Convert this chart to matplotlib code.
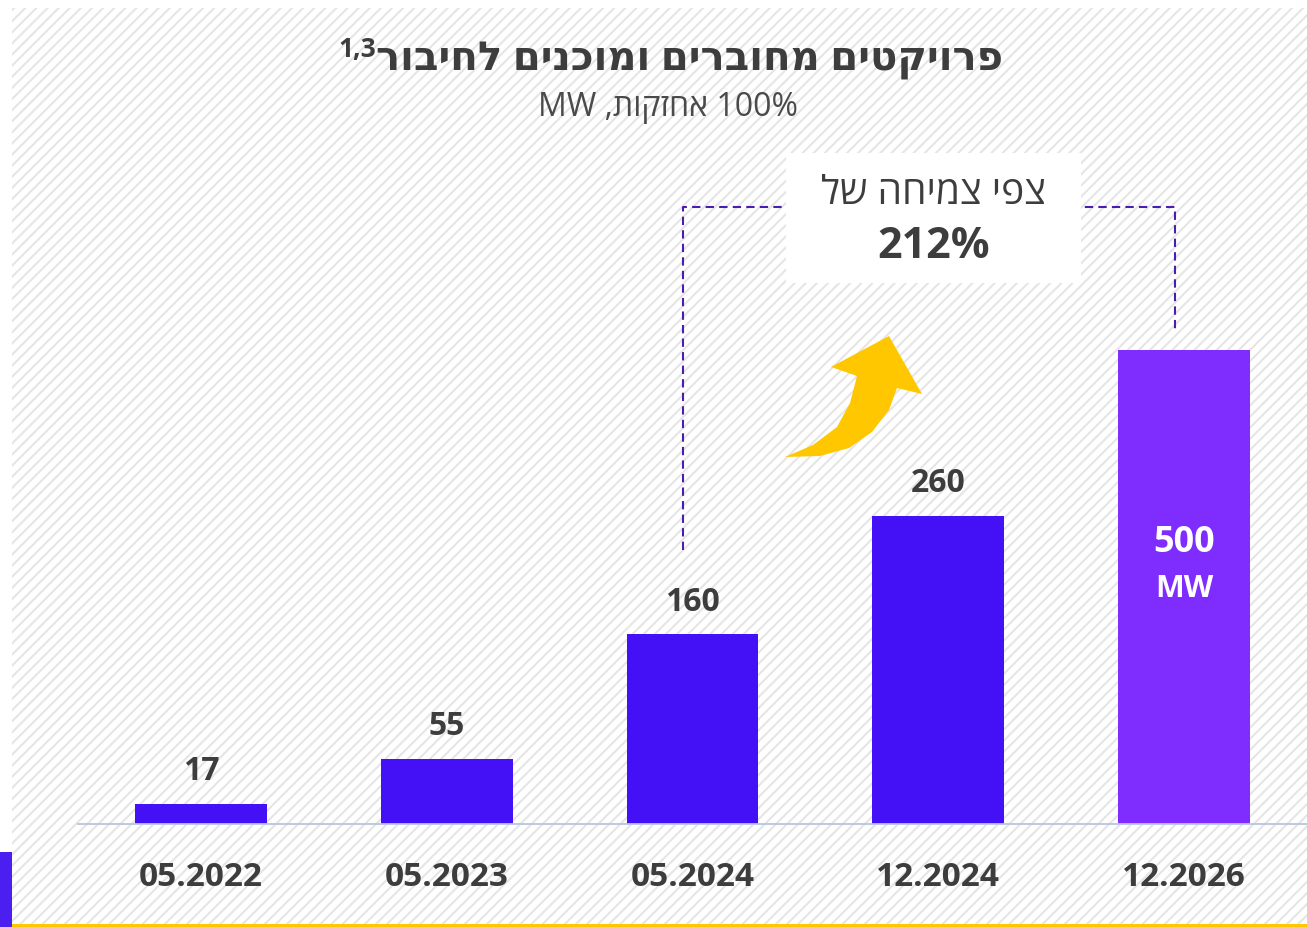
import numpy as np
import matplotlib
matplotlib.use("Agg")
import matplotlib.pyplot as plt
from matplotlib.patches import Rectangle, Polygon

plt.rcParams['font.family'] = ['Open Sans', 'DejaVu Sans']
plt.rcParams['hatch.linewidth'] = 1.5

# data
periods = ['05.2022', '05.2023', '05.2024', '12.2024', '12.2026']
values = [17, 55, 160, 260, 500]
unit = 'MW'
growth = '212%'
AXIS_BREAK = 400  # last bar is drawn shortened

title = 'פרויקטים מחוברים ומוכנים לחיבור'
title_sup = '1,3'
subtitle_vis = 'MW ,' + 'אחזקות'[::-1] + ' 100%'
box_line = 'צפי צמיחה של'

W, H = 1307, 927
fig = plt.figure(figsize=(W / 100, H / 100), dpi=100)
fig.patch.set_facecolor('white')


def fx(x):
    return x / W


def fy(y):
    return 1 - y / H


# hatched background
fig.patches.append(Rectangle((fx(12), fy(924)), fx(W - 12), 916 / H,
                             transform=fig.transFigure, facecolor='white',
                             edgecolor='#e5e5e5', hatch='///', lw=0, zorder=-2))
# bottom yellow line and left purple mark
fig.patches.append(Rectangle((fx(12), 0), 1, 3.5 / H, transform=fig.transFigure,
                             facecolor='#ffc800', lw=0, zorder=-1))
fig.patches.append(Rectangle((0, 0), fx(12), 75 / H, transform=fig.transFigure,
                             facecolor='#4a1ff0', lw=0, zorder=-1))

ax = fig.add_axes([fx(78), 103 / H, 1229 / W, 711 / H])
ax.set_facecolor('none')
ax.axis('off')
ax.set_xlim(-0.5, 4.5)
ax.set_ylim(0, 600)

x = np.arange(len(values))
heights = np.minimum(values, AXIS_BREAK)
colors = ['#4411f7'] * 4 + ['#7f2cff']
ax.bar(x, heights, width=0.537, color=colors, zorder=3)
ax.axhline(0, color='#b8c6dc', lw=1.3, zorder=4, clip_on=False)

dark = '#3d3d3d'
for i, v in enumerate(values[:-1]):
    ax.text(i, v + 27, str(v), ha='center', va='center', fontsize=23,
            fontweight='bold', color=dark)
ax.text(x[-1], 237, str(values[-1]), ha='center', va='center', fontsize=26,
        fontweight='bold', color='white', zorder=5)
ax.text(x[-1], 198, unit, ha='center', va='center', fontsize=22,
        fontweight='bold', color='white', zorder=5)

for i, p in enumerate(periods):
    ax.text(i, -45, p, ha='center', va='center', fontsize=24,
            fontweight='bold', color=dark, clip_on=False)

# dashed connector
ax.plot([1.96, 1.96, 3.965, 3.965], [231, 521, 521, 417], ls=(0, (4, 2.5)),
        color='#4a1db0', lw=1.5, zorder=2)
ax.add_patch(Rectangle((2.382, 456.5), 1.2, 110, facecolor='white', lw=0, zorder=3))
ax.text(2.98, 532, box_line[::-1], ha='center', va='center', fontsize=28,
        color=dark, zorder=4)
ax.text(2.98, 487, growth, ha='center', va='center', fontsize=31,
        fontweight='bold', color=dark, zorder=4)

# yellow arrow
arrow_px = [(785, 457), (813, 445), (837, 427), (850, 403), (857, 376),
            (831, 367), (889, 336), (922, 394), (897, 388), (889, 410),
            (872, 432), (849, 448), (820, 456)]
fig.patches.append(Polygon([(fx(a), fy(b)) for a, b in arrow_px], closed=True,
                           transform=fig.transFigure, facecolor='#ffc700',
                           lw=0, zorder=2))

# titles
t = fig.text(fx(690), fy(60), title[::-1], ha='center', va='center',
             fontsize=29, fontweight='bold', color=dark)
fig.text(fx(668), fy(108), subtitle_vis, ha='center', va='center',
         fontsize=23, color='#4a4a4a')
fig.canvas.draw()
bb = t.get_window_extent()
fig.text(bb.x0 / W, fy(50), title_sup, ha='right', va='center', fontsize=19,
         fontweight='bold', color=dark)

fig.savefig('out.png', dpi=100)
